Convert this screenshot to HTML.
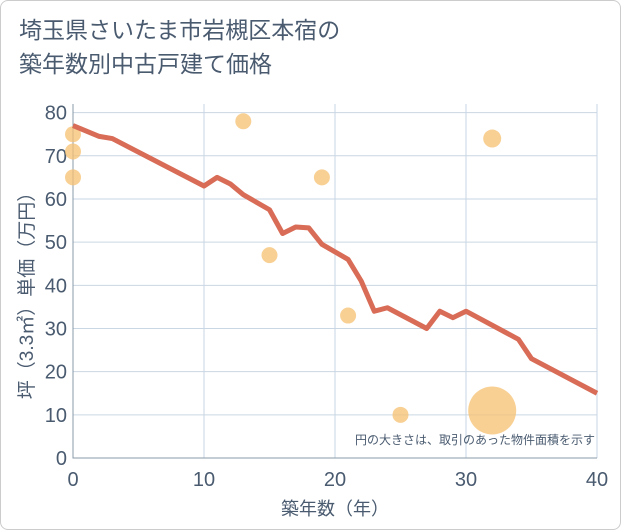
<!DOCTYPE html>
<html><head><meta charset="utf-8"><style>
body{margin:0;background:#fff;font-family:"Liberation Sans","Noto Sans CJK JP",sans-serif;}
.card{position:absolute;left:0;top:0;width:619px;height:528px;border:1px solid #ccc;border-radius:8px;background:#fff;}
.title{position:absolute;left:18px;top:12px;font-size:23px;line-height:34px;color:#4a5b70;}
</style></head><body>
<div class="card">
<div class="title">埼玉県さいたま市岩槻区本宿の<br>築年数別中古戸建て価格</div>
<svg id="chart" width="621" height="530" style="position:absolute;left:0;top:0"></svg>
</div>
<script>
const xTicks=[0,10,20,30,40];
const yTicks=[0,10,20,30,40,50,60,70,80];
const lineX=[0,2,3,10,11,12,13,15,16,17,18,19,21,22,23,24,27,28,29,30,34,35,40];
const lineY=[77,74.5,74,63,65,63.5,61,57.5,52,53.5,53.3,49.5,46,41,34,34.8,30,34,32.5,34,27.5,23,15];
const ptX=[0,0,0,13,15,19,21,25,32,32];
const ptY=[75,71,65,78,47,65,33,10,74,11];
const ptR=[8,8,8,8,8,8,8,8,9,24];
const NS='http://www.w3.org/2000/svg';
const svg=document.getElementById('chart');
const L=72,R=596,T=103,B=457;
const TC='#4a5b70';
const sx=v=>L+(v-0)/40*(R-L);
const sy=v=>B-(v/82)*(B-T);
function mk(t,a){const e=document.createElementNS(NS,t);for(const k in a)e.setAttribute(k,a[k]);svg.appendChild(e);return e;}
yTicks.forEach(v=>{const g=mk('line',{x1:L,x2:R,y1:sy(v),y2:sy(v),stroke:'#c9d6e3','stroke-width':1});

const t=mk('text',{x:L-6,y:sy(v)+7,'text-anchor':'end','font-size':20,fill:TC,'font-weight':300});t.textContent=v;
});
xTicks.forEach(v=>{const g=mk('line',{x1:sx(v),x2:sx(v),y1:T,y2:B,stroke:'#c9d6e3','stroke-width':1});

const t=mk('text',{x:sx(v),y:B+28,'text-anchor':'middle','font-size':20,fill:TC});t.textContent=v;
});
const ax=mk('path',{d:`M${L},${T}V${B}H${R}`,fill:'none',stroke:'#8899aa','stroke-width':1});

ptX.forEach((x,i)=>{const c=mk('circle',{cx:sx(x),cy:sy(ptY[i]),r:ptR[i],fill:'#f5c070','fill-opacity':0.75});
});
const p=mk('polyline',{points:lineX.map((x,i)=>sx(x)+','+sy(lineY[i])).join(' '),fill:'none',stroke:'#d86c56','stroke-width':5,'stroke-linejoin':'round'});

const n=mk('text',{x:594,y:443,'text-anchor':'end','font-size':12,fill:TC});n.textContent='円の大きさは、取引のあった物件面積を示す';

const xt=mk('text',{x:(L+R)/2,y:514,'text-anchor':'middle','font-size':18,fill:TC});xt.textContent='築年数（年）';

const yt=mk('text',{x:0,y:0,'text-anchor':'middle','font-size':19,fill:TC,transform:`translate(32,${(T+B)/2+10}) rotate(-90)`});yt.textContent='坪（3.3㎡）単価（万円）';

</script>
</body></html>
